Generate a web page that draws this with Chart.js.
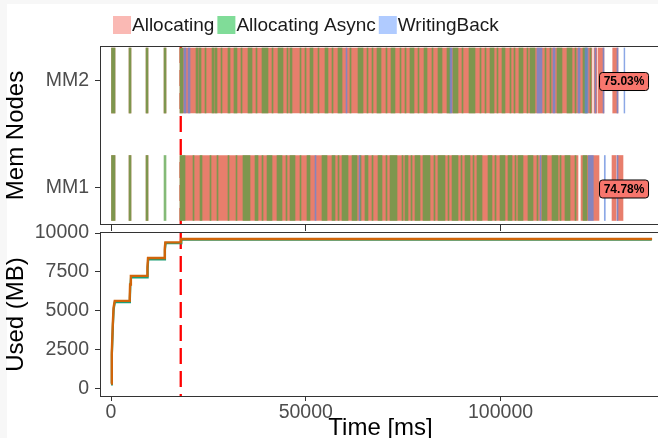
<!DOCTYPE html>
<html>
<head>
<meta charset="utf-8">
<script src="https://cdn.jsdelivr.net/npm/chart.js@4.4.1/dist/chart.umd.min.js"></script>
<style>
  html, body { margin: 0; padding: 0; overflow: hidden; background: #f7f7f7; width: 658px; height: 438px; }
  #page { position: absolute; left: 7px; top: 4px; width: 651px; height: 434px; background: #fff; }
  canvas { position: absolute; left: 0; }
  #nodes { top: 0; }
  #used { top: 215px; }
</style>
</head>
<body>
<div id="page"></div>
<canvas id="nodes" width="661" height="232"></canvas>
<canvas id="used" width="661" height="240"></canvas>
<script>
// ---------- data ----------
const rows = ['MM1', 'MM2'];
const states = ['Allocating', 'Allocating Async', 'WritingBack'];
const timeTicks = [0, 50000, 100000];
const usedTicks = [0, 2500, 5000, 7500, 10000];
const cutTime = 17900;          // red dashed line
const shareTime = 131700;       // where the % boxes sit
const shareLabels = ['74.78%', '75.03%'];   // MM1, MM2

// [start, end] in ms
const mm1Allocating = [[0,1030],[4620,5130],[8990,9500],[17710,119880],[120650,125270],[128610,129630],[129890,131430]];
const mm2Allocating = [[0,1030],[4620,5130],[8990,9500],[13610,14120],[17710,123470],[123990,124680],[125010,126550],[128790,130150]];

const mm1Async = [[0,1030],[4620,5130],[8990,9500],[13610,14120],
  [17710,19000],[21050,21310],[22850,23360],[25410,25670],[27210,27470],[30030,30290],[32090,32340],[33880,35680],
  [36970,37740],[38760,39020],[40050,41330],[42610,43900],[44920,45180],[45950,47230],[48520,48770],[50310,51080],
  [54160,55450],[56730,57500],[58270,58530],[59300,60840],[61870,63150],[63920,64180],[65200,65970],[67000,67260],
  [68540,69570],[70590,70850],[71620,73420],[74700,74960],[75470,76240],[77010,77270],[78040,79320],[80090,81890],
  [82910,83170],[83940,85740],[86510,86760],[87540,89080],[89850,90100],[90870,92160],[92930,93180],[93950,95240],
  [96780,97800],[98570,98830],[99860,101140],[101910,102940],[103710,103960],[104480,105760],[107040,108330],
  [109350,109610],[110640,111920],[113210,114750],[115260,115520],[116540,117830],[119110,119370],[121160,122190]];
const mm2Async = [[0,1030],[4620,5130],[8990,9500],[13610,14120],
  [17710,18480],[21820,22330],[22590,23100],[24130,24390],[25930,26440],[26700,27210],[28240,28490],[30030,30550],
  [31570,32340],[33370,33630],[35170,36200],[37220,37480],[38760,40300],[41330,41590],[42870,44150],[45180,45440],
  [45950,46460],[48520,48770],[49800,50060],[51080,51850],[53140,53390],[54930,55700],[56730,56990],[58270,59300],
  [61350,61610],[63410,64690],[65720,65970],[67000,67260],[68280,69310],[70590,70850],[71880,72900],[74190,74440],
  [75470,75730],[76750,77780],[78810,79060],[80350,81120],[82400,82660],[83940,84970],[86250,87020],[87790,89080],
  [90100,90360],[91900,93440],[94720,94980],[96010,96260],[97290,98320],[99090,99340],[100370,101140],[102420,102680],
  [103450,103710],[104730,105760],[106790,107040],[107560,108840],[111410,111660],[112690,112950],[114490,115770],
  [117060,118340],[119110,119370],[121160,122190],[122960,123220]];

const mm1WritingBack = [[52370,52620],[63660,63920],[110120,110380],[122520,123810],[126630,126890],[129890,130150]];
const mm2WritingBack = [[18740,19250],[19770,20280],[60330,60580],[87020,87540],[109350,110640],[113460,113980],
  [119880,120390],[121680,122450],[124240,124500],[126300,126550],[129890,130150],[131690,131900]];

// memory used over time
const usedTimeMM1 = [0, 220, 470, 680, 980, 4750, 4850, 4950, 5150, 9300, 9400, 9550, 13750, 13850, 14000, 18000, 18050, 138800];
const usedMM1     = [300, 2200, 4000, 5100, 5560, 5560, 5800, 6600, 7150, 7150, 7700, 8300, 8300, 8900, 9350, 9350, 9580, 9580];
const usedTimeMM2 = [0, 200, 450, 650, 950, 4700, 4800, 4900, 5100, 9250, 9350, 9500, 13700, 13800, 13950, 17950, 18000, 138900];
const usedMM2     = [350, 2300, 4100, 5200, 5650, 5650, 5850, 6700, 7250, 7250, 7800, 8400, 8400, 9000, 9400, 9400, 9620, 9620];

// ---------- styling ----------
Chart.defaults.font.family = '"Liberation Sans", Arial, sans-serif';
const barColors = ['rgba(232,126,108,1)', 'rgba(84,160,66,0.72)', 'rgba(95,135,220,0.72)'];
const legendColors = ['#FAB9B4', '#80DC98', '#B0CBFF'];
const xMin = -2570, xMax = 140930;
const tickFont = { size: 19.5 };
const tickColor = '#4D4D4D';

const panelBox = {
    id: 'panelBox',
    afterDraw(chart) {
        const { ctx, chartArea: a } = chart;
        ctx.save();
        ctx.strokeStyle = '#333333';
        ctx.lineWidth = 1;
        ctx.strokeRect(Math.round(a.left) - 0.5, Math.round(a.top) - 0.5,
            Math.round(a.right - a.left) + 1, Math.round(a.bottom - a.top) + 1);
        ctx.restore();
    }
};

const cutLine = {
    id: 'cutLine',
    beforeDatasetsDraw(chart) {
        const { ctx, chartArea: a, scales } = chart;
        const px = scales.x.getPixelForValue(cutTime);
        ctx.save();
        ctx.strokeStyle = '#FF0000';
        ctx.lineWidth = 2.3;
        ctx.setLineDash([16, 7]);
        ctx.beginPath();
        ctx.moveTo(px, a.top);
        ctx.lineTo(px, a.bottom);
        ctx.stroke();
        ctx.restore();
    }
};

const legendRow = {
    id: 'legendRow',
    afterDraw(chart) {
        const ctx = chart.ctx;
        ctx.save();
        ctx.font = '19px "Liberation Sans", Arial, sans-serif';
        ctx.textBaseline = 'middle';
        let x = 113;
        states.forEach((s, i) => {
            ctx.fillStyle = legendColors[i];
            ctx.fillRect(x, 16, 18, 18);
            ctx.fillStyle = '#1a1a1a';
            ctx.fillText(s, x + 19, 25.5);
            x += 19 + ctx.measureText(s).width + 3;
        });
        ctx.restore();
    }
};

const shareBoxes = {
    id: 'shareBoxes',
    afterDatasetsDraw(chart) {
        const { ctx, scales } = chart;
        const cx = scales.x.getPixelForValue(shareTime);
        ctx.save();
        ctx.font = 'bold 12px "Liberation Sans", Arial, sans-serif';
        ctx.textAlign = 'center';
        ctx.textBaseline = 'middle';
        shareLabels.forEach((txt, i) => {
            const cy = scales.y.getPixelForValue(i + 1) + 1;
            ctx.beginPath();
            ctx.roundRect(cx - 24.5, cy - 9, 49, 18, 3);
            ctx.fillStyle = '#F8766D';
            ctx.fill();
            ctx.lineWidth = 1;
            ctx.strokeStyle = '#000';
            ctx.stroke();
            ctx.fillStyle = '#000';
            ctx.fillText(txt, cx, cy + 0.5);
        });
        ctx.restore();
    }
};

// the row labels must not push the panel edges
const noEdgePadding = s => { s.paddingTop = 0; s.paddingBottom = 0; };

// ---------- top panel: state bars ----------
const byState = [
    [mm1Allocating, mm2Allocating],
    [mm1Async, mm2Async],
    [mm1WritingBack, mm2WritingBack]
];

new Chart(document.getElementById('nodes'), {
    type: 'bar',
    data: {
        datasets: states.map((s, i) => ({
            label: s,
            data: [
                ...byState[i][1].map(p => ({ x: p, y: 2 })),
                ...byState[i][0].map(p => ({ x: p, y: 1 }))
            ],
            backgroundColor: barColors[i],
            borderWidth: 0,
            barThickness: 65,
            grouped: false,
            order: 3 - i
        }))
    },
    options: {
        indexAxis: 'y',
        responsive: false,
        animation: false,
        devicePixelRatio: 1,
        events: [],
        layout: { padding: { top: 47, right: 1, bottom: 0, left: 0 } },
        plugins: { legend: { display: false }, tooltip: { enabled: false } },
        scales: {
            x: {
                type: 'linear', min: xMin, max: xMax,
                afterBuildTicks: s => { s.ticks = timeTicks.map(v => ({ value: v })); },
                afterFit: s => { s.height = 8; },
                ticks: { display: false },
                grid: { drawOnChartArea: false, tickLength: 7, color: '#333' },
                border: { display: false }
            },
            y: {
                type: 'linear', min: 0.665, max: 2.312, offset: false,
                afterBuildTicks: s => { s.ticks = rows.map((r, i) => ({ value: i + 1 })); },
                afterFit: s => { s.width = 101; noEdgePadding(s); },
                ticks: { callback: v => rows[v - 1], font: tickFont, color: tickColor, padding: 6 },
                grid: { drawOnChartArea: false, offset: false, tickLength: 6, color: '#333' },
                border: { display: false },
                title: { display: true, text: 'Mem Nodes', font: { size: 24 }, color: '#000', padding: { top: 2, bottom: 0 } }
            }
        }
    },
    plugins: [cutLine, shareBoxes, panelBox, legendRow]
});

// ---------- bottom panel: used memory ----------
new Chart(document.getElementById('used'), {
    type: 'line',
    data: {
        datasets: [
            {
                label: 'MM2',
                data: usedTimeMM2.map((t, i) => ({ x: t, y: usedMM2[i] })),
                borderColor: '#D0650A',
                borderWidth: 2.4,
                pointRadius: 0,
                order: 1
            },
            {
                label: 'MM1',
                data: usedTimeMM1.map((t, i) => ({ x: t, y: usedMM1[i] })),
                borderColor: '#1B9E77',
                borderWidth: 2.2,
                pointRadius: 0,
                order: 2
            }
        ]
    },
    options: {
        responsive: false,
        animation: false,
        devicePixelRatio: 1,
        events: [],
        layout: { padding: { top: 18, right: 1, bottom: 0, left: 0 } },
        plugins: { legend: { display: false }, tooltip: { enabled: false } },
        scales: {
            x: {
                type: 'linear', min: xMin, max: xMax,
                afterBuildTicks: s => { s.ticks = timeTicks.map(v => ({ value: v })); },
                afterFit: s => { s.height = 59; },
                ticks: { font: tickFont, color: tickColor, padding: 0, maxRotation: 0, callback: v => String(v) },
                grid: { drawOnChartArea: false, tickLength: 5, color: '#333' },
                border: { display: false },
                title: { display: true, text: 'Time [ms]', font: { size: 24 }, color: '#000', padding: { top: 0, bottom: 12.6 } }
            },
            y: {
                type: 'linear', min: -450, max: 10000,
                afterBuildTicks: s => { s.ticks = usedTicks.map(v => ({ value: v })); },
                afterFit: s => { s.width = 101; },
                ticks: { font: tickFont, color: tickColor, padding: 6, callback: v => String(v) },
                grid: { drawOnChartArea: false, tickLength: 6, color: '#333' },
                border: { display: false },
                title: { display: true, text: 'Used (MB)', font: { size: 24 }, color: '#000', padding: { top: 2, bottom: 0 } }
            }
        }
    },
    plugins: [cutLine, panelBox]
});
</script>
</body>
</html>
